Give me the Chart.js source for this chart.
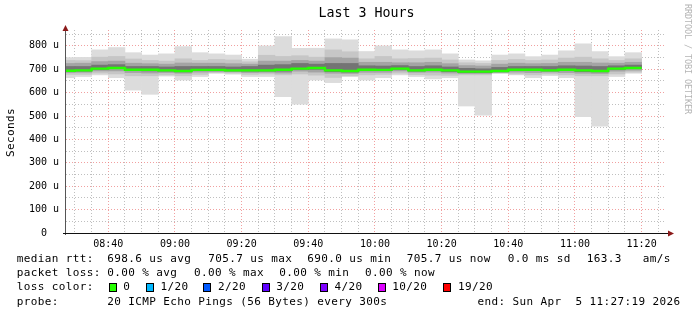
<!DOCTYPE html>
<html><head><meta charset="utf-8">
<script src="https://cdn.jsdelivr.net/npm/chart.js@4/dist/chart.umd.min.js"></script>
<style>html,body{margin:0;padding:0;background:#fff;}canvas{display:block;}</style>
</head><body>
<canvas id="c" width="697" height="315"></canvas>
<script>
// ---- data (5-minute buckets, start times) ----
const bucketStarts = ['08:25','08:30','08:35','08:40','08:45','08:50','08:55','09:00','09:05','09:10','09:15','09:20','09:25','09:30','09:35','09:40','09:45','09:50','09:55','10:00','10:05','10:10','10:15','10:20','10:25','10:30','10:35','10:40','10:45','10:50','10:55','11:00','11:05','11:10','11:15'];
const pingMax = [750,751,783,793,771,761,766,797,771,766,761,743,800,840,790,790,830,826,776,800,783,779,783,766,740,736,761,766,754,761,779,809,776,754,771];
const ping90  = [738,737,752,755,744,738,735,745,738,742,740,732,760,755,758,752,783,775,745,755,745,746,748,740,728,725,738,742,738,740,748,752,745,738,745];
const ping75  = [725,726,733,735,726,724,722,727,726,726,724,722,735,735,738,735,750,748,730,730,728,728,730,724,716,714,722,726,724,725,730,730,727,726,730];
const ping60  = [712,712,718,720,712,712,710,712,712,712,710,712,718,720,725,722,725,725,715,714,716,712,715,710,704,702,708,712,712,712,715,714,712,715,718];
const medianRtt = [693.7,695.2,702.7,705.7,698.2,698.2,695.2,693.0,697.5,697.5,695.2,695.2,695.2,698.2,702.7,705.7,695.2,693.0,698.2,697.5,702.7,695.2,698.2,695.2,690.0,690.0,693.0,698.2,698.2,695.2,698.2,695.2,693.0,702.7,705.7];
const ping40  = [690,692,700,703,695,693,692,689,694,695,693,692,692,692,700,700,690,688,694,694,700,692,694,690,686,686,690,695,694,693,694,690,689,700,704];
const ping25  = [686,687,693,693,686,684,686,683,688,690,689,686,687,684,692,688,683,682,687,687,693,687,688,684,682,682,686,688,686,688,686,683,682,692,696];
const ping10  = [678,678,684,680,672,672,676,672,678,685,684,678,680,676,680,675,665,672,676,678,684,677,675,674,676,676,684,680,676,680,676,672,672,680,688];
const pingMin = [664,669,676,664,611,593,671,654,669,683,679,669,669,583,551,654,643,669,654,664,676,669,659,664,543,504,683,676,664,673,664,497,457,669,683];
const bucketMinutes = 5;
const axisStart = '08:27:19', axisEnd = '11:27:19';
const xMajorLabels = ['08:40','09:00','09:20','09:40','10:00','10:20','10:40','11:00','11:20'];
const yTickValues = [0,50,100,150,200,250,300,350,400,450,500,550,600,650,700,750,800,850];
const yMax = 868;

const legendRows = [
  [[16.7,'median rtt:'],[107.3,'698.6 us avg'],[208.3,'705.7 us max'],[307.3,'690.0 us min'],[406.7,'705.7 us now'],[507.7,'0.0 ms sd'],[586.7,'163.3'],[642.7,'am/s']],
  [[16.7,'packet loss:'],[107.3,'0.00 % avg'],[194,'0.00 % max'],[279.3,'0.00 % min'],[365,'0.00 % now']],
  [[16.7,'loss color:']],
  [[16.7,'probe:'],[107.3,'20 ICMP Echo Pings (56 Bytes) every 300s'],[477.5,'end: Sun Apr  5 11:27:19 2026']]
];
const lossLabels = ['0','1/20','2/20','3/20','4/20','10/20','19/20'];
const lossColors = ['#26ff00','#00b8ff','#0059ff','#5e00ff','#7e00ff','#dd00ff','#ff0000'];
const lossBoxX = [108.7,146,203.3,261.7,320,377.7,443.3];

// ---- build ----
const toMin = s => { const p = s.split(':').map(Number); return p[0]*60 + p[1] + (p[2]||0)/60; };
const centers = bucketStarts.map(s => toMin(s) + bucketMinutes/2);
const band = (lo, hi) => centers.map((x,i) => ({x, y:[lo[i], hi[i]]}));
const medianPts = [];
bucketStarts.forEach((s,i) => { const a = toMin(s); medianPts.push({x:a, y:medianRtt[i]}, {x:a+bucketMinutes, y:medianRtt[i]}); });
const majorSet = new Set(xMajorLabels.map(toMin));
const xMin = toMin(axisStart), xMax = toMin(axisEnd);
const xTickVals = [];
for (let v = Math.ceil(xMin/5)*5; v <= xMax; v += 5) xTickVals.push(v);
const pad2 = n => String(n).padStart(2,'0');
const fmt = v => pad2(Math.floor(v/60)) + ':' + pad2(Math.round(v%60));

const RED = 'rgba(235,120,120,0.7)', GRAY = 'rgba(170,170,170,0.75)';
const MONO = '"DejaVu Sans Mono", monospace';

function monoText(ctx, str, x, y, adv) {
  for (let i = 0; i < str.length; i++) ctx.fillText(str[i], x + i*adv, y);
}

const deco = {
  id: 'deco',
  beforeDraw(chart) {
    const ctx = chart.ctx;
    ctx.save(); ctx.fillStyle = '#fff'; ctx.fillRect(0,0,chart.width,chart.height); ctx.restore();
  },
  afterDraw(chart) {
    const ctx = chart.ctx, a = chart.chartArea;
    ctx.save();
    // axes
    ctx.lineWidth = 1;
    ctx.strokeStyle = '#555';
    ctx.beginPath(); ctx.moveTo(a.left - 0.5, a.bottom + 2); ctx.lineTo(a.left - 0.5, a.top - 2); ctx.stroke();
    ctx.strokeStyle = '#111';
    ctx.beginPath(); ctx.moveTo(a.left - 3, a.bottom + 0.5); ctx.lineTo(a.right + 3, a.bottom + 0.5); ctx.stroke();
    ctx.fillStyle = '#8b1a1a';
    ctx.beginPath(); ctx.moveTo(a.left - 3.5, a.top + 1); ctx.lineTo(a.left + 2.5, a.top + 1); ctx.lineTo(a.left - 0.5, a.top - 5); ctx.closePath(); ctx.fill();
    ctx.beginPath(); ctx.moveTo(a.right + 2, a.bottom - 2.5); ctx.lineTo(a.right + 2, a.bottom + 3.5); ctx.lineTo(a.right + 8, a.bottom + 0.5); ctx.closePath(); ctx.fill();
    // title
    ctx.fillStyle = '#000';
    ctx.textBaseline = 'middle'; ctx.textAlign = 'left';
    ctx.font = '13.3px ' + MONO;
    const title = 'Last 3 Hours';
    monoText(ctx, title, 366.5 - title.length*4, 14, 8);
    // y unit label
    ctx.font = '11px ' + MONO;
    ctx.save(); ctx.translate(11, 132.5); ctx.rotate(-Math.PI/2);
    monoText(ctx, 'Seconds', -24.5, 0, 7);
    ctx.restore();
    // watermark
    ctx.save(); ctx.translate(687, 4); ctx.rotate(Math.PI/2);
    ctx.font = '8.5px ' + MONO; ctx.fillStyle = '#b4b4b4';
    monoText(ctx, 'RRDTOOL / TOBI OETIKER', 0, 0, 5);
    ctx.restore();
    // legend
    ctx.font = '11px ' + MONO; ctx.fillStyle = '#000';
    const rowY = [259.3, 273.3, 287.3, 301.7];
    legendRows.forEach((row, r) => row.forEach(([x, s]) => monoText(ctx, s, x, rowY[r], 7)));
    lossLabels.forEach((lab, i) => {
      const bx = Math.round(lossBoxX[i]);
      ctx.fillStyle = lossColors[i]; ctx.fillRect(bx, 283, 8, 9);
      ctx.strokeStyle = '#000'; ctx.strokeRect(bx + 0.5, 283.5, 7, 8);
      ctx.fillStyle = '#000';
      monoText(ctx, lab, lossBoxX[i] + 14.6, rowY[2], 7);
    });
    ctx.restore();
  }
};

const mkBand = (lo, hi, color, order) => ({
  type: 'bar', data: band(lo, hi), backgroundColor: color, borderWidth: 0,
  grouped: false, barPercentage: 1, categoryPercentage: 1, order
});

new Chart(document.getElementById('c'), {
  type: 'bar',
  data: {
    datasets: [
      { type: 'line', data: medianPts, borderColor: '#26ff00', borderWidth: 2.4, pointRadius: 0, tension: 0, order: 1 },
      mkBand(ping40, ping60, '#747474', 2),
      mkBand(ping25, ping75, '#a4a4a4', 3),
      mkBand(ping10, ping90, '#c6c6c6', 4),
      mkBand(pingMin, pingMax, '#dcdcdc', 5)
    ]
  },
  options: {
    responsive: false, animation: false, devicePixelRatio: 1, events: [],
    layout: { padding: { top: 30, right: 31, bottom: 0, left: 0 } },
    plugins: { legend: { display: false }, tooltip: { enabled: false }, title: { display: false } },
    scales: {
      x: {
        type: 'linear', min: xMin, max: xMax, offset: false, z: 1,
        afterBuildTicks: s => { s.ticks = xTickVals.map(v => ({ value: v })); },
        afterFit: s => { s.height = 82; },
        grid: { offset: false, drawTicks: false, lineWidth: 1,
          color: c => (c.tick && majorSet.has(c.tick.value)) ? RED : GRAY },
        border: { display: false, dash: [1, 2] },
        ticks: { autoSkip: false, maxRotation: 0, padding: 5, color: '#000',
          font: { family: MONO, size: 10 },
          callback: v => majorSet.has(v) ? fmt(v) : '' }
      },
      y: {
        type: 'linear', min: 0, max: yMax, z: 1,
        afterBuildTicks: s => { s.ticks = yTickValues.map(v => ({ value: v })); },
        afterFit: s => { s.width = 66; },
        grid: { drawTicks: false, lineWidth: 1,
          color: c => (c.tick && c.tick.value % 100 === 0) ? RED : GRAY },
        border: { display: false, dash: [1, 2] },
        ticks: { autoSkip: false, padding: 7, color: '#000',
          font: { family: MONO, size: 10 },
          callback: v => v % 100 === 0 ? (v === 0 ? '0  ' : v + ' u') : '' }
      }
    }
  },
  plugins: [deco]
});
</script>
</body></html>
